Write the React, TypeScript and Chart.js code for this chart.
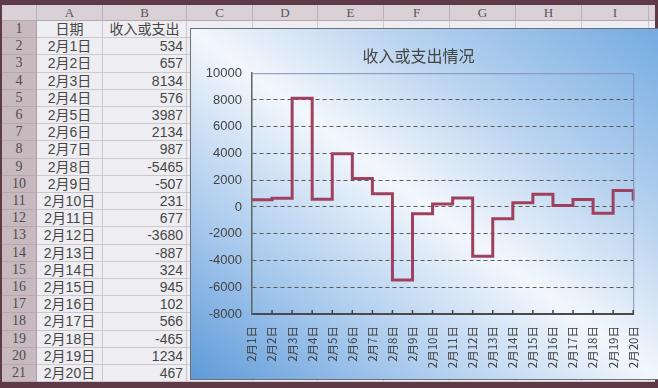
import React, { useEffect, useRef } from "react";
import { Chart, registerables } from "chart.js";
Chart.register(...registerables);

const dates = ["2月1日", "2月2日", "2月3日", "2月4日", "2月5日", "2月6日", "2月7日", "2月8日", "2月9日", "2月10日", "2月11日", "2月12日", "2月13日", "2月14日", "2月15日", "2月16日", "2月17日", "2月18日", "2月19日", "2月20日"];
const amounts = [534, 657, 8134, 576, 3987, 2134, 987, -5465, -507, 231, 677, -3680, -887, 324, 945, 102, 566, -465, 1234, 467];
const columnLetters = ["A", "B", "C", "D", "E", "F", "G", "H", "I", "J"];
const headerTexts = ["日期", "收入或支出"];
const chartTitle = "收入或支出情况";
const yMin = -8000;
const yMax = 10000;
const yStep = 2000;

const colEdges = [0, 35, 101, 185, 251, 316, 382, 448, 514, 580, 647, 713];
const headTop = 5;
const rowTop = 21;
const rowH = 17.2;
const rowCount = 21;

const framePlugin = {
  id: "frame",
  afterDatasetsDraw(chart: any) {
    const { ctx, chartArea: a, scales } = chart;
    ctx.save();
    ctx.strokeStyle = "#8790b4";
    ctx.lineWidth = 1;
    ctx.beginPath();
    ctx.moveTo(a.left, a.top + 0.5);
    ctx.lineTo(a.right + 0.5, a.top + 0.5);
    ctx.lineTo(a.right + 0.5, a.bottom);
    ctx.stroke();
    ctx.strokeStyle = "#444";
    ctx.lineWidth = 1.5;
    const xs = scales.x;
    for (let i = 1; i < xs.ticks.length; i++) {
      const x = xs.getPixelForTick(i);
      ctx.beginPath();
      ctx.moveTo(x, a.bottom);
      ctx.lineTo(x, a.bottom - 4);
      ctx.stroke();
    }
    ctx.restore();
  },
};

export default function App() {
  const canvasRef = useRef<HTMLCanvasElement>(null);
  useEffect(() => {
    document.body.style.margin = "0";
    const chart = new Chart(canvasRef.current as HTMLCanvasElement, {
      type: "line",
      data: {
        labels: dates,
        datasets: [
          {
            data: amounts,
            stepped: true,
            borderColor: "#a0405f",
            borderWidth: 3,
            pointRadius: 0,
            fill: false,
          },
        ],
      },
      options: {
        animation: false,
        responsive: false,
        maintainAspectRatio: false,
        layout: { padding: { left: 0, right: 13, top: 0, bottom: 0 } },
        plugins: {
          legend: { display: false },
          tooltip: { enabled: false },
          title: {
            display: true,
            text: chartTitle,
            color: "#444",
            font: { size: 16, family: "Noto Sans CJK SC", weight: "normal" },
            padding: { top: 17, bottom: 8 },
          },
        },
        scales: {
          x: {
            type: "category",
            offset: false,
            grid: { display: false, drawTicks: false },
            border: { color: "#4a4a4a", width: 2 },
            ticks: {
              autoSkip: false,
              minRotation: 90,
              maxRotation: 90,
              padding: 12,
              color: "#444",
              font: { size: 11.5, family: "Noto Sans CJK SC" },
            },
            afterFit: (s: any) => {
              s.height = 65;
            },
          },
          y: {
            min: yMin,
            max: yMax,
            grid: {
              drawTicks: false,
              lineWidth: 1,
              color: (c: any) =>
                c.tick && (c.tick.value === yMax || c.tick.value === yMin) ? "rgba(0,0,0,0)" : "#5a5a5a",
            },
            border: { color: "#5d6658", width: 1.5, dash: [4, 3] },
            ticks: {
              stepSize: yStep,
              padding: 10,
              color: "#444",
              font: { size: 13, family: "Liberation Sans" },
              callback: (v: any) => String(v),
            },
            afterFit: (s: any) => {
              s.width = 61;
            },
          },
        },
      },
      plugins: [framePlugin],
    } as any);
    return () => chart.destroy();
  }, []);

  const cells: React.ReactNode[] = [];
  for (let c = 0; c < colEdges.length - 1; c++) {
    cells.push(
      <div
        key={"ch" + c}
        style={{
          position: "absolute",
          left: colEdges[c],
          top: headTop,
          width: colEdges[c + 1] - colEdges[c] - 1,
          height: rowTop - headTop - 1,
          background: "#d9d1d5",
          borderRight: "1px solid #bcb2b7",
          borderBottom: "1px solid #b3a9ae",
          color: "#555",
          font: "13px 'Liberation Serif', serif",
          textAlign: "center",
          lineHeight: rowTop - headTop - 1 + "px",
        }}
      >
        {c === 0 ? "" : columnLetters[c - 1]}
      </div>
    );
  }
  for (let r = 1; r <= rowCount; r++) {
    const top = rowTop + (r - 1) * rowH;
    cells.push(
      <div
        key={"rh" + r}
        style={{
          position: "absolute",
          left: 0,
          top,
          width: colEdges[1] - 1,
          height: rowH - 1,
          background: "#c8b9bf",
          borderRight: "1px solid #a99ca2",
          borderBottom: "1px solid #b5a8ae",
          color: "#4d4d4d",
          font: "14px 'Liberation Serif', serif",
          textAlign: "center",
          lineHeight: rowH - 1 + "px",
        }}
      >
        {r}
      </div>
    );
    for (let c = 1; c < colEdges.length - 1; c++) {
      let text: string = "";
      let align: "center" | "right" = "center";
      if (c === 1) text = r === 1 ? headerTexts[0] : dates[r - 2];
      if (c === 2) {
        if (r === 1) text = headerTexts[1];
        else {
          text = String(amounts[r - 2]);
          align = "right";
        }
      }
      cells.push(
        <div
          key={"c" + r + "_" + c}
          style={{
            position: "absolute",
            left: colEdges[c],
            top,
            width: colEdges[c + 1] - colEdges[c] - 1 - (align === "right" ? 3 : 0),
            paddingRight: align === "right" ? 3 : 0,
            height: rowH - 1,
            background: "#eeedf1",
            borderRight: "1px solid #cdc8cd",
            borderBottom: "1px solid #cdc8cd",
            color: "#474747",
            font: "14px 'Liberation Sans', 'Noto Sans CJK SC', sans-serif",
            textAlign: align,
            lineHeight: rowH - 1 + "px",
            whiteSpace: "nowrap",
            overflow: "hidden",
          }}
        >
          {text}
        </div>
      );
    }
  }

  return (
    <div
      style={{
        position: "fixed",
        left: 0,
        top: 0,
        width: 658,
        height: 388,
        overflow: "hidden",
        background: "#5e3a46",
      }}
    >
      <div style={{ position: "absolute", left: 2, top: 0, width: 653, height: 382, overflow: "hidden" }}>
        {cells}
      </div>
      <div
        style={{
          position: "absolute",
          left: 190,
          top: 28,
          width: 470,
          height: 352,
          boxSizing: "border-box",
          border: "1px solid #6f6f78",
          background:
            "linear-gradient(to top right, #5e9ad8 0%, #a3c6ec 22%, #f3f7fc 50%, #bcd5f0 70%, #74abe2 100%)",
        }}
      >
        <canvas ref={canvasRef} width={468} height={350} style={{ display: "block", width: 468, height: 350 }} />
      </div>
    </div>
  );
}
